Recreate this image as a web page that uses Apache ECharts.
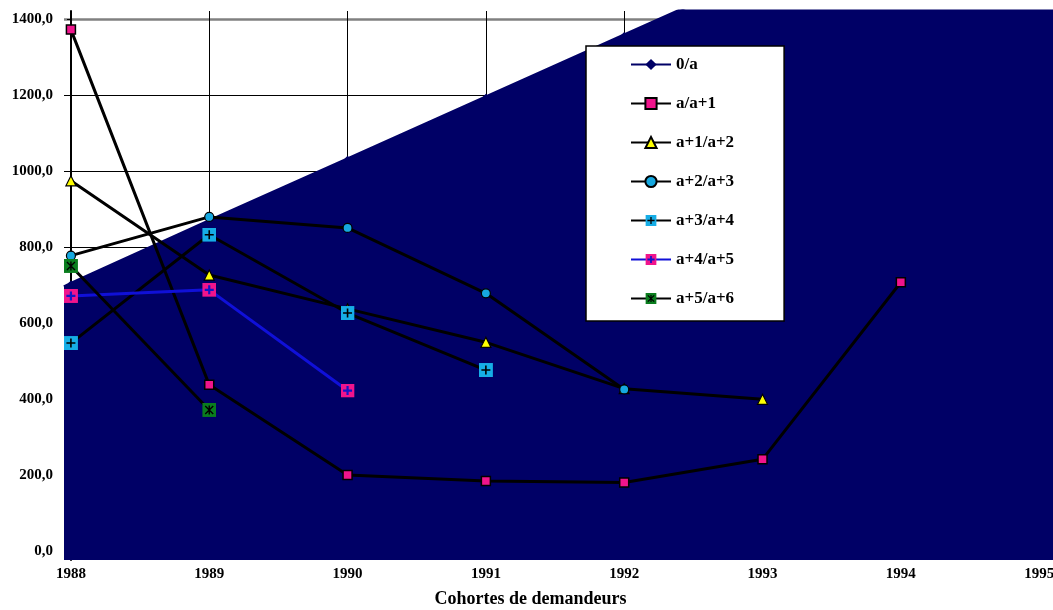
<!DOCTYPE html>
<html>
<head>
<meta charset="utf-8">
<script src="https://cdn.jsdelivr.net/npm/echarts@6/dist/echarts.min.js"></script>
<style>
  html, body { margin: 0; padding: 0; background: #fff; }
  #container { width: 1053px; height: 610px; }
</style>
</head>
<body>
<div id="container"></div>
<script>
    // cohortes
    var years = [1988, 1989, 1990, 1991, 1992, 1993, 1994, 1995];
    var seriesNames = ['0/a', 'a/a+1', 'a+1/a+2', 'a+2/a+3', 'a+3/a+4', 'a+4/a+5', 'a+5/a+6'];

    // 0/a : le fond bleu, sort du cadre vers 1992 (valeurs hors echelle estimees)
    var v0 = [704, 869, 1032, 1195, 1358, 1521, 1684, 1847];
    // bords de la zone bleue (debordent du cadre)
    var v0Left = [1987.95, 695];
    var v0Right = [1995.1, 1864];

    var v1 = [1372, 437, 200, 184, 180, 241, 707, null];
    var v2 = [974, 726, 637, 549, 427, 399, null, null];
    var v3 = [777, 879, 850, 678, 425, null, null, null];
    var v4 = [547, 832, 626, 476, null, null, null, null];
    var v5 = [671, 687, 422, null, null, null, null, null];
    var v6 = [750, 371, null, null, null, null, null, null];

    var yTicks = [0, 200, 400, 600, 800, 1000, 1200, 1400];

    var FONT = "'Liberation Serif', 'Times New Roman', serif";
    var NAVY = '#000066';

    function pairs(vals) {
        var out = [];
        for (var i = 0; i < years.length; i++) {
            if (vals[i] != null) out.push([years[i], vals[i]]);
        }
        return out;
    }

    function svgSymbol(svg) {
        return 'image://data:image/svg+xml;charset=utf-8,' + encodeURIComponent(svg);
    }
    var plusCyan = svgSymbol("<svg xmlns='http://www.w3.org/2000/svg' width='14' height='14' viewBox='0 0 14 14'>" +
        "<rect width='14' height='14' fill='#16ade6'/><path d='M7 2.5V11.5M2.5 7H11.5' stroke='#000' stroke-width='1.6'/></svg>");
    var plusPink = svgSymbol("<svg xmlns='http://www.w3.org/2000/svg' width='14' height='14' viewBox='0 0 14 14'>" +
        "<rect width='14' height='14' fill='#f0148c'/><path d='M7 2.5V11.5M2.5 7H11.5' stroke='#1414c8' stroke-width='2.2'/></svg>");
    var starGreen = svgSymbol("<svg xmlns='http://www.w3.org/2000/svg' width='14' height='14' viewBox='0 0 14 14'>" +
        "<rect width='14' height='14' fill='#0a7d1e'/><path d='M3 3L11 11M11 3L3 11M7 2.5V11.5' stroke='#000' stroke-width='1.4'/></svg>");

    function blackLine(name, vals, symbol, size, fill, border) {
        return {
            name: name,
            type: 'line',
            data: pairs(vals),
            symbol: symbol,
            symbolSize: size,
            lineStyle: { color: '#000', width: 3 },
            itemStyle: { color: fill, borderColor: '#000', borderWidth: border },
            emphasis: { disabled: true }
        };
    }

    var option = {
        animation: false,
        backgroundColor: '#fff',
        textStyle: { fontFamily: FONT, color: '#000' },
        grid: { left: 64, right: 0, top: 11, bottom: 50, outerBoundsMode: 'none', containLabel: false },
        legend: {
            orient: 'vertical',
            left: 586,
            top: 46,
            padding: [10, 50, 14, 44],
            itemWidth: 40,
            itemHeight: 14,
            itemGap: 22,
            backgroundColor: '#fff',
            borderColor: '#000',
            borderWidth: 1.5,
            selectedMode: false,
            data: seriesNames,
            textStyle: { fontFamily: FONT, fontWeight: 'bold', fontSize: 17, color: '#000', lineHeight: 14 }
        },
        xAxis: {
            type: 'value',
            min: 1987.95,
            max: 1995.1,
            minInterval: 1,
            maxInterval: 1,
            axisLine: { show: false },
            axisTick: { show: false },
            axisLabel: {
                margin: 7, fontFamily: FONT, fontWeight: 'bold', fontSize: 15, color: '#000',
                formatter: function (v) {
                    return years.indexOf(v) < 0 ? '' : String(v);
                }
            },
            splitLine: { show: true, showMinLine: false, showMaxLine: false, lineStyle: { color: '#000', width: 1 } },
            name: 'Cohortes de demandeurs',
            nameLocation: 'middle',
            nameGap: 30,
            nameTextStyle: { fontFamily: FONT, fontWeight: 'bold', fontSize: 18, color: '#000', padding: [0, 56, 0, 0] }
        },
        yAxis: [{
            type: 'value',
            min: -24,
            max: 1421,
            minInterval: 200,
            maxInterval: 200,
            offset: -7,
            axisLine: { show: true, lineStyle: { color: '#000', width: 2 } },
            axisTick: { show: true, length: 4, customValues: yTicks, lineStyle: { color: '#000' } },
            axisLabel: {
                margin: 18, fontFamily: FONT, fontWeight: 'bold', fontSize: 15, color: '#000',
                customValues: yTicks,
                formatter: function (v) {
                    if (yTicks.indexOf(v) < 0) return '';
                    return v.toFixed(1).replace('.', ',');
                }
            },
            splitLine: { show: true, showMinLine: false, showMaxLine: false, lineStyle: { color: '#000', width: 1 } }
        }, {
            // bord gris du haut a 1400
            type: 'value',
            min: -24,
            max: 1421,
            minInterval: 1400,
            maxInterval: 1400,
            position: 'left',
            axisLine: { show: false },
            axisTick: { show: false },
            axisLabel: { show: false },
            splitLine: { show: true, showMinLine: false, showMaxLine: false, lineStyle: { color: '#808080', width: 2.5 } }
        }],
        series: [
            {
                name: '0/a',
                type: 'line',
                data: [{ value: v0Left, symbol: 'none' }].concat(pairs(v0), [{ value: v0Right, symbol: 'none' }]),
                symbol: 'diamond',
                symbolSize: 6,
                lineStyle: { color: NAVY, width: 3 },
                itemStyle: { color: NAVY },
                areaStyle: { color: NAVY, opacity: 1, origin: 'start' },
                emphasis: { disabled: true }
            },
            blackLine('a/a+1', v1, 'rect', 9, '#f0148c', 1.5),
            blackLine('a+1/a+2', v2, 'triangle', 10, '#ffff00', 1.2),
            blackLine('a+2/a+3', v3, 'circle', 9, '#16a8e0', 1.2),
            blackLine('a+3/a+4', v4, plusCyan, 14, '#16ade6', 0),
            {
                name: 'a+4/a+5',
                type: 'line',
                data: pairs(v5),
                symbol: plusPink,
                symbolSize: 14,
                lineStyle: { color: '#1010d8', width: 3 },
                itemStyle: { color: '#f0148c' },
                emphasis: { disabled: true }
            },
            blackLine('a+5/a+6', v6, starGreen, 14, '#0a7d1e', 0)
        ]
    };

    var myChart = echarts.init(document.getElementById('container'));
    myChart.setOption(option);
</script>
</body>
</html>
